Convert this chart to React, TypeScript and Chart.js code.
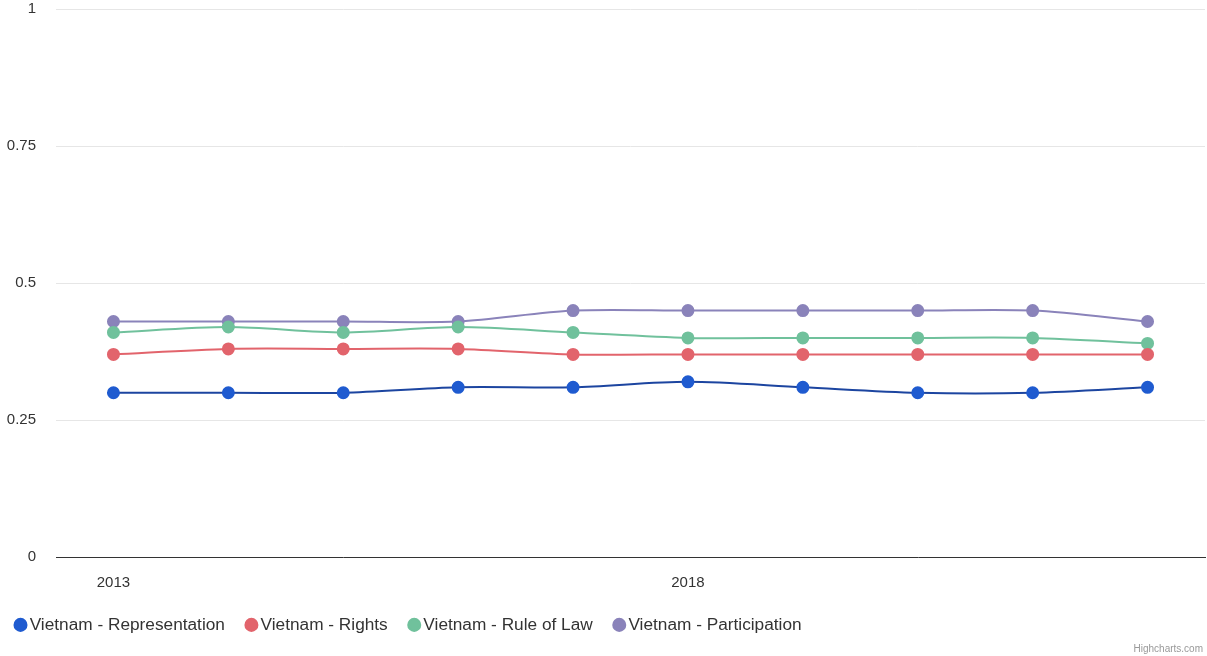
import React, { useEffect, useRef } from "react";
import { Chart, registerables } from "chart.js";

Chart.register(...registerables);

const years = ["2013", "2014", "2015", "2016", "2017", "2018", "2019", "2020", "2021", "2022"];
const representation = [0.30, 0.30, 0.30, 0.31, 0.31, 0.32, 0.31, 0.30, 0.30, 0.31];
const rights = [0.37, 0.38, 0.38, 0.38, 0.37, 0.37, 0.37, 0.37, 0.37, 0.37];
const ruleOfLaw = [0.41, 0.42, 0.41, 0.42, 0.41, 0.40, 0.40, 0.40, 0.40, 0.39];
const participation = [0.43, 0.43, 0.43, 0.43, 0.45, 0.45, 0.45, 0.45, 0.45, 0.43];
const yTicks = [0, 0.25, 0.5, 0.75, 1];
const shownYears = ["2013", "2018"];

const FONT = "'Liberation Sans', Arial, Helvetica, sans-serif";

export default function App() {
  const ref = useRef<HTMLCanvasElement | null>(null);

  useEffect(() => {
    if (!ref.current) return;
    const mk = (label: string, data: number[], color: string, line: string) => ({
      label,
      data,
      borderColor: line,
      backgroundColor: color,
      pointBackgroundColor: color,
      pointBorderColor: color,
      pointRadius: 5.5,
      pointHoverRadius: 6,
      borderWidth: 2,
      tension: 0.3,
      fill: false,
    });
    const chart = new Chart(ref.current, {
      type: "line",
      data: {
        labels: years,
        datasets: [
          mk("Vietnam - Representation", representation, "#1f5bd0", "#1c45a0"),
          mk("Vietnam - Rights", rights, "#e2646c", "#e2646c"),
          mk("Vietnam - Rule of Law", ruleOfLaw, "#70c19c", "#70c19c"),
          mk("Vietnam - Participation", participation, "#8a83ba", "#8a83ba"),
        ],
      },
      options: {
        animation: false,
        responsive: true,
        maintainAspectRatio: false,
        layout: { autoPadding: false, padding: { left: -6, right: 2, top: 0, bottom: 12.5 } },
        plugins: {
          tooltip: { enabled: false },
          legend: {
            position: "bottom",
            align: "start",
            labels: {
              usePointStyle: true,
              pointStyle: "circle",
              boxWidth: 1,
              boxHeight: 8.5,
              padding: 26,
              color: "#333333",
              font: { family: FONT, size: 17.25 },
            },
          },
        },
        scales: {
          x: {
            offset: true,
            grid: { display: false, drawTicks: false },
            border: { display: true, color: "#333333", width: 1 },
            afterFit: (axis: any) => {
              axis.height = 33;
            },
            ticks: {
              autoSkip: false,
              maxRotation: 0,
              padding: 17,
              color: "#333333",
              font: { family: FONT, size: 15 },
              callback: function (this: any, _v: any, i: number) {
                const l = years[i];
                return shownYears.includes(l) ? l : "";
              },
            },
          },
          y: {
            min: 0,
            max: 1,
            afterBuildTicks: (axis: any) => {
              axis.ticks = yTicks.map((v) => ({ value: v }));
            },
            afterFit: (axis: any) => {
              axis.width = 62;
            },
            grid: { color: "#e6e6e6", drawTicks: true, tickLength: 20, tickColor: "rgba(0,0,0,0)" },
            border: { display: false },
            ticks: {
              padding: 0,
              color: "#333333",
              font: { family: FONT, size: 15 },
              callback: (v: any) => String(v),
            },
          },
        },
      },
    });
    return () => chart.destroy();
  }, []);

  return (
    <div style={{ position: "fixed", left: 0, top: 0, width: 1207, height: 656, background: "#fff" }}>
      <canvas ref={ref} />
      <div
        style={{
          position: "absolute",
          right: 4,
          bottom: 2,
          fontFamily: FONT,
          fontSize: 10,
          color: "#999999",
        }}
      >
        Highcharts.com
      </div>
    </div>
  );
}
